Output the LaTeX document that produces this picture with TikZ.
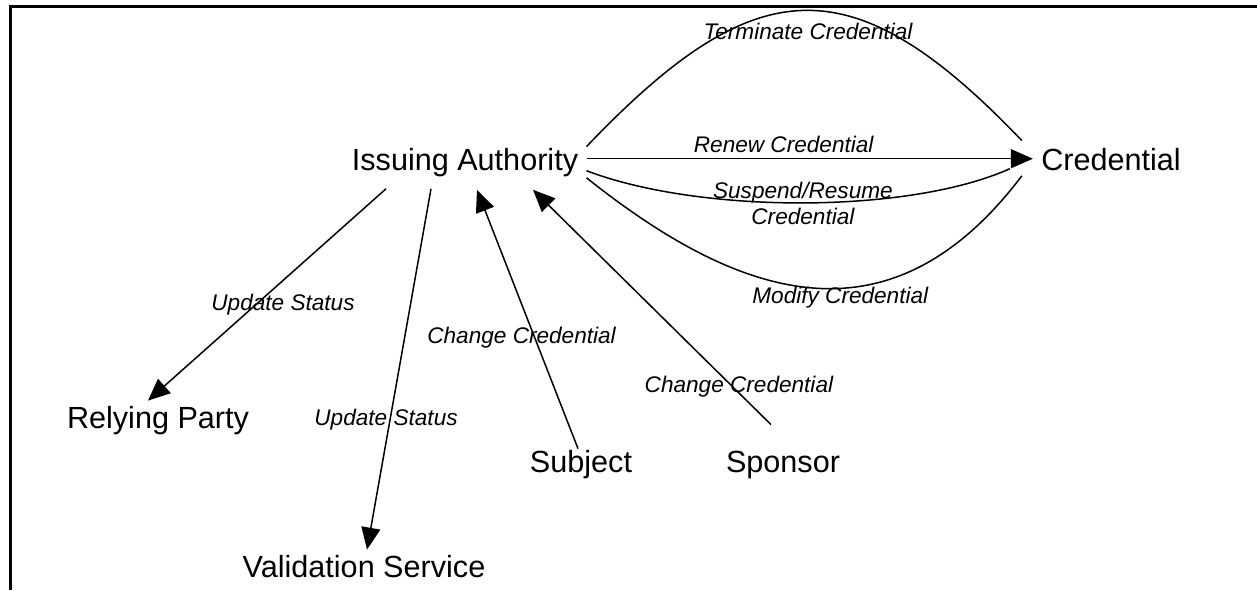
\documentclass[tikz,border=0pt]{standalone}
\usepackage{fontspec}
\setmainfont{Liberation Sans}
\usetikzlibrary{arrows.meta}

\begin{document}
\begin{tikzpicture}[% one unit is one pixel of the original drawing
		x=0.5pt,y=-0.5pt,
		entity/.style={
			font=\fontsize{15.3}{18}\selectfont,
			anchor=base,		% placed on the baseline of the text
			inner sep=4pt,
			text height=0.75em,	% same box for every name
			text depth=0.22em
		},
		lbl/.style={font=\itshape\fontsize{11.3}{13}\selectfont,inner sep=1pt,align=center},
		curve/.style={draw,line width=0.75pt},
		every edge/.style={draw,line width=0.75pt},
		>={Triangle[length=11pt,width=9.5pt]}
	]
	\useasboundingbox (0,0) rectangle (1257,590);
	\draw[line width=1.5pt] (10,590) -- (10,6) -- (1257,6);

	\node[entity](IA) at (465,170) {Issuing Authority};
	\node[entity](Cred) at (1111,170) {Credential};
	\node[entity](RP) at (158,428) {Relying Party};
	\node[entity](VS) at (364,577) {Validation Service};
	\node[entity](Subj) at (581,472) {Subject};
	\node[entity](Spon) at (783,472) {Sponsor};

	\path[->]
	([yshift=3pt]IA.east) edge node[lbl,above,xshift=-13pt,yshift=1.5pt] {Renew Credential} ([yshift=3pt]Cred.west)
	([xshift=-39.5pt,yshift=-3pt]IA.south) edge node[lbl,xshift=8pt,yshift=-5pt] {Update Status} ([xshift=-5pt,yshift=2pt]RP.north)
	([xshift=-17pt,yshift=-3pt]IA.south) edge node[lbl,pos=0.64,xshift=-2pt] {Update Status} ([xshift=1.5pt,yshift=2pt]VS.north)
	([xshift=-1.5pt]Subj.north) edge node[lbl,pos=0.43,xshift=-6.5pt] {Change Credential} ([xshift=6pt,yshift=-3.5pt]IA.south)
	([xshift=-6pt,yshift=12pt]Spon.north) edge node[lbl,pos=0.16,xshift=3pt] {Change Credential} ([xshift=34pt,yshift=-3.5pt]IA.south)
	;

	% the three bent connectors to the credential
	\path[curve] (IA.north east) .. controls (756,-31) and (852,-37) .. ([xshift=-5.5pt,yshift=3pt]Cred.north west)
		node[lbl,pos=0.5,xshift=2pt,yshift=-10.5pt] {Terminate Credential};
	\path[curve] ([yshift=-3pt]IA.east) .. controls (700,214) and (909,214) .. ([xshift=-11.5pt,yshift=-2pt]Cred.west)
		node[lbl,pos=0.5] {Suspend/Resume\\Credential};
	\path[curve] ([yshift=2.5pt]IA.south east) .. controls (740,300) and (890,350) .. ([xshift=-5.5pt,yshift=3.5pt]Cred.south west)
		node[lbl,pos=0.5,xshift=14pt,yshift=-5pt] {Modify Credential};
\end{tikzpicture}
\end{document}
